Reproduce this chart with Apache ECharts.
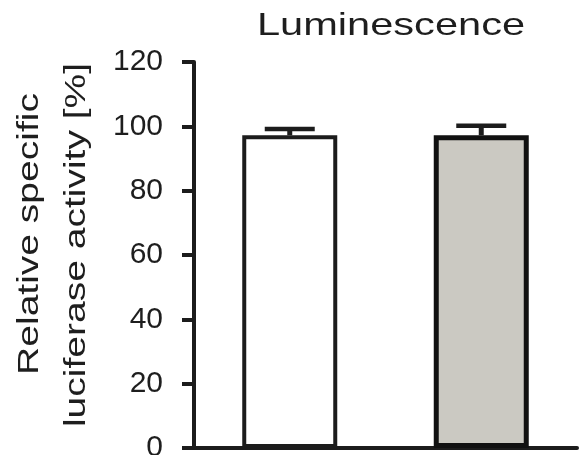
<!DOCTYPE html>
<html>
<head>
<meta charset="utf-8">
<script src="https://cdn.jsdelivr.net/npm/echarts@6/dist/echarts.min.js"></script>
<style>
html,body{margin:0;padding:0;background:#fff;overflow:hidden;}
#chart{width:579px;height:455px;}
</style>
</head>
<body>
<div id="chart"></div>
<script>
var titleText = 'Luminescence';
var yLabelLines = ['Relative specific', 'luciferase activity [%]'];
var categories = ['Control', 'Treated'];
var values = [97.2, 97.2];
var errors = [2.0, 3.0];
var yTicks = [0, 20, 40, 60, 80, 100, 120];

var FONT = '"Liberation Sans", Arial, sans-serif';
var INK = '#1c1c1c';

var chart = echarts.init(document.getElementById('chart'), null, {renderer: 'canvas'});

var barData = values.map(function (v, i) {
  return {
    value: v,
    itemStyle: i === 0
      ? {color: '#ffffff', borderColor: INK, borderWidth: 4}
      : {color: '#cbc9c2', borderColor: '#111111', borderWidth: 5}
  };
});

var errData = values.map(function (v, i) { return [i, v, errors[i]]; });

chart.setOption({
  animation: false,
  backgroundColor: '#ffffff',
  grid: {left: 194, right: 2, top: 62, bottom: 7, containLabel: false, outerBoundsMode: 'none'},
  xAxis: {
    type: 'category',
    data: categories,
    axisLine: {show: true, lineStyle: {color: INK, width: 4}},
    axisTick: {show: false},
    axisLabel: {show: false},
    splitLine: {show: false}
  },
  yAxis: {
    type: 'value',
    min: yTicks[0],
    max: yTicks[yTicks.length - 1],
    interval: yTicks[1] - yTicks[0],
    axisLine: {show: true, lineStyle: {color: INK, width: 4}},
    axisTick: {show: true, length: 12, lineStyle: {color: INK, width: 4}},
    axisLabel: {show: true, margin: 31, color: '#1e1e1e', fontSize: 30, fontFamily: FONT},
    splitLine: {show: false}
  },
  series: [
    {
      type: 'bar',
      data: barData,
      barWidth: 95,
      z: 2
    },
    {
      type: 'custom',
      z: 3,
      data: errData,
      renderItem: function (params, api) {
        var x = api.value(0);
        var v = api.value(1);
        var e = api.value(2);
        var top = api.coord([x, v + e]);
        var base = api.coord([x, v]);
        var half = 25;
        return {
          type: 'group',
          children: [
            {type: 'line', shape: {x1: top[0], y1: top[1], x2: base[0], y2: base[1]},
             style: {stroke: INK, lineWidth: 5}},
            {type: 'line', shape: {x1: top[0] - half, y1: top[1], x2: top[0] + half, y2: top[1]},
             style: {stroke: INK, lineWidth: 4.5}}
          ]
        };
      }
    }
  ],
  graphic: [
    {
      type: 'text', x: 391, y: 26, scaleX: 1.3,
      style: {text: titleText, font: '32px ' + FONT, fill: '#1e1e1e', align: 'center', verticalAlign: 'middle'}
    },
    {
      type: 'text', x: 30, y: 234, rotation: Math.PI / 2, scaleX: 1.3,
      style: {text: yLabelLines[0], font: '30px ' + FONT, fill: '#1e1e1e', align: 'center', verticalAlign: 'middle'}
    },
    {
      type: 'text', x: 77, y: 245, rotation: Math.PI / 2, scaleX: 1.3,
      style: {text: yLabelLines[1], font: '30px ' + FONT, fill: '#1e1e1e', align: 'center', verticalAlign: 'middle'}
    }
  ]
});
</script>
</body>
</html>
